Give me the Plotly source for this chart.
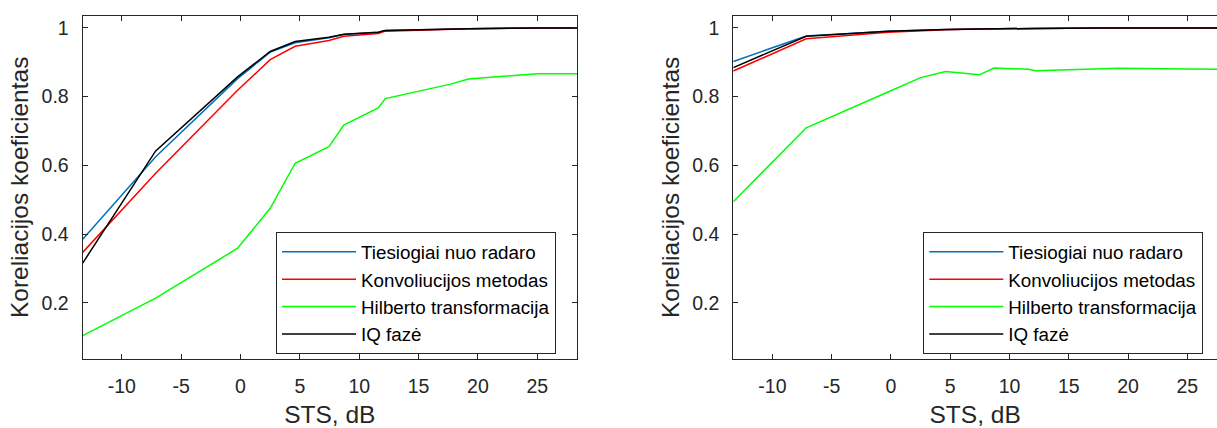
import plotly.graph_objects as go

# SNR grid (dB)
sts_db = [-13.3, -7.15, -0.25, 2.5, 4.6, 7.45, 8.7, 11.6, 12.2, 17.7, 19.2, 25.0, 28.35]

series_names = ["Tiesiogiai nuo radaro", "Konvoliucijos metodas", "Hilberto transformacija", "IQ fazė"]
series_colors = ["#0072BD", "#FF0000", "#00FF00", "#000000"]

# Left panel
left_direct = [0.385, 0.625, 0.852, 0.929, 0.956, 0.971, 0.980, 0.987, 0.992, 0.996, 0.997, 0.999, 0.999]
left_conv = [0.347, 0.577, 0.818, 0.907, 0.946, 0.963, 0.975, 0.983, 0.990, 0.995, 0.997, 0.999, 1.000]
left_hilbert = [0.105, 0.214, 0.359, 0.475, 0.606, 0.654, 0.717, 0.767, 0.794, 0.836, 0.851, 0.866, 0.866]
left_iq = [0.316, 0.642, 0.857, 0.931, 0.960, 0.972, 0.981, 0.987, 0.992, 0.996, 0.997, 0.999, 0.999]

# Right panel
right_direct = [0.902, 0.976, 0.990, 0.993, 0.995, 0.996, 0.997, 0.998, 0.998, 0.999, 0.999, 0.999, 0.999]
right_conv = [0.874, 0.968, 0.987, 0.992, 0.994, 0.996, 0.997, 0.998, 0.998, 0.999, 0.999, 0.999, 0.999]
right_hilbert = [0.494, 0.709, 0.813, 0.855, 0.873, 0.863, 0.883, 0.879, 0.875, 0.880, 0.882, 0.880, 0.879]
right_iq = [0.884, 0.975, 0.990, 0.993, 0.995, 0.996, 0.997, 0.998, 0.998, 0.999, 0.999, 0.999, 0.999]

x_ticks = [-10, -5, 0, 5, 10, 15, 20, 25]
x_tick_text = ["-10", "-5", "0", "5", "10", "15", "20", "25"]
y_ticks = [0.2, 0.4, 0.6, 0.8, 1.0]
y_tick_text = ["0.2", "0.4", "0.6", "0.8", "1"]

FONT = "Arial, Liberation Sans, sans-serif"
AX = "#262626"

fig = go.Figure()

left = [left_direct, left_conv, left_hilbert, left_iq]
right = [right_direct, right_conv, right_hilbert, right_iq]

for name, col, ys in zip(series_names, series_colors, left):
    fig.add_trace(go.Scatter(x=sts_db, y=ys, mode="lines", name=name,
                             line=dict(color=col, width=1.5), xaxis="x", yaxis="y",
                             legend="legend"))
for name, col, ys in zip(series_names, series_colors, right):
    fig.add_trace(go.Scatter(x=sts_db, y=ys, mode="lines", name=name,
                             line=dict(color=col, width=1.5), xaxis="x2", yaxis="y2",
                             legend="legend2"))

W, H = 1217, 428
ydom = [(H - 358.7) / H, (H - 16) / H]

common_x = dict(tickmode="array", tickvals=x_ticks, ticktext=x_tick_text, ticks="inside", ticklen=5,
                tickcolor=AX, showline=True, linecolor=AX, linewidth=1.3, automargin=False,
                showgrid=False, zeroline=False, tickfont=dict(size=19.5, color=AX, family=FONT),
                title=dict(text="STS, dB", font=dict(size=24.5, color=AX, family=FONT), standoff=15),
                ticklabelstandoff=10)
common_y = dict(tickmode="array", tickvals=y_ticks, ticktext=y_tick_text, ticks="inside",
                ticklen=5, tickcolor=AX, showline=True, linecolor=AX, linewidth=1.3, automargin=False,
                showgrid=False, zeroline=False, tickfont=dict(size=19.5, color=AX, family=FONT),
                title=dict(text="Koreliacijos koeficientas", font=dict(size=24.5, color=AX, family=FONT), standoff=5),
                range=[0.038, 1.034], domain=ydom, ticklabelstandoff=9)

legend_common = dict(bgcolor="white", bordercolor=AX, borderwidth=1,
                     font=dict(size=18.8, color="#000000", family=FONT),
                     itemwidth=74, tracegroupgap=0, xanchor="left", yanchor="top")

fig.update_layout(
    template="none",
    width=W, height=H,
    margin=dict(l=0, r=0, t=0, b=0, autoexpand=False),
    paper_bgcolor="white", plot_bgcolor="white",
    showlegend=True,
    xaxis=dict(common_x, domain=[82.7 / W, 577 / W], range=[-13.3, 28.35], mirror="ticks", anchor="y"),
    yaxis=dict(common_y, anchor="x", mirror="ticks"),
    xaxis2=dict(common_x, domain=[733.3 / W, 1.0], range=[-13.3, 27.5], mirror="ticks", anchor="y2"),
    yaxis2=dict(common_y, anchor="x2", mirror=False),
    legend=dict(legend_common, x=276 / W, y=(H - 232) / H),
    legend2=dict(legend_common, x=923.3 / W, y=(H - 232) / H),
)

fig.write_html("out.html", config={"displayModeBar": False},
               post_script="document.body.style.margin='0px';document.body.style.overflow='hidden';")
